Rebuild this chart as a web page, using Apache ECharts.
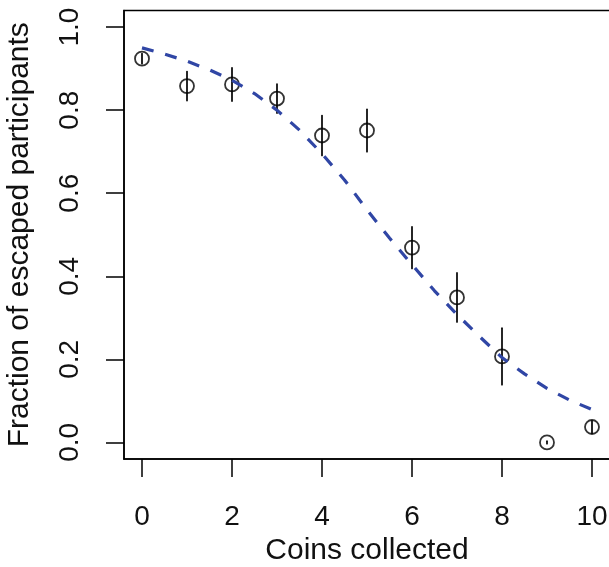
<!DOCTYPE html>
<html>
<head>
<meta charset="utf-8">
<script src="https://cdn.jsdelivr.net/npm/echarts@6/dist/echarts.min.js"></script>
<style>html,body{margin:0;padding:0;background:#fff;}#c{width:609px;height:567px;}</style>
</head>
<body>
<div id="c"></div>
<script>
// Observed data
var coins = [0, 1, 2, 3, 4, 5, 6, 7, 8, 9, 10];
var fraction = [0.924, 0.858, 0.862, 0.828, 0.739, 0.751, 0.469, 0.349, 0.207, 0.000, 0.037];
var errHalf = [0.012, 0.035, 0.040, 0.035, 0.048, 0.051, 0.050, 0.059, 0.068, 0.003, 0.015];
// Fitted curve
var fitX = [0, 0.5, 1, 1.5, 2, 2.5, 3, 3.5, 4, 4.5, 5, 5.5, 6, 6.5, 7, 7.5, 8, 8.5, 9, 9.5, 10];
var fitY = [0.950, 0.935, 0.918, 0.897, 0.872, 0.840, 0.800, 0.752, 0.695, 0.632, 0.560, 0.492, 0.428, 0.365, 0.308, 0.255, 0.204, 0.165, 0.130, 0.102, 0.079];
var xTicks = [0, 2, 4, 6, 8, 10];
var yTicks = [0, 0.2, 0.4, 0.6, 0.8, 1.0];

var FONT = 'Liberation Sans, Arial, Helvetica, sans-serif';
var chart = echarts.init(document.getElementById('c'), null, {renderer: 'canvas'});

var errData = coins.map(function (x, i) { return [x, fraction[i] - errHalf[i], fraction[i] + errHalf[i]]; });
var ptData = coins.map(function (x, i) { return [x, fraction[i]]; });
var fitData = fitX.map(function (x, i) { return [x, fitY[i]]; });

chart.setOption({
  animation: false,
  backgroundColor: '#fff',
  grid: {left: 124, top: 10.5, width: 486, height: 448.5, containLabel: false, outerBoundsMode: 'none', show: true, borderColor: '#000', borderWidth: 1.5, backgroundColor: 'transparent'},
  xAxis: {
    type: 'value', min: -0.4, max: 10.4,
    name: 'Coins collected', nameLocation: 'middle', nameGap: 76,
    nameTextStyle: {fontFamily: FONT, fontSize: 30, color: '#111'},
    axisLine: {show: true, onZero: false, lineStyle: {color: '#000', width: 1.5}},
    axisTick: {show: true, inside: false, length: 18, lineStyle: {color: '#000', width: 1.5}, customValues: xTicks},
    axisLabel: {show: true, margin: 44, fontFamily: FONT, fontSize: 28, color: '#111', customValues: xTicks, formatter: function (v) { return String(v); }},
    splitLine: {show: false}
  },
  yAxis: {
    type: 'value', min: -0.04, max: 1.04,
    name: 'Fraction of escaped participants', nameLocation: 'middle', nameGap: 89,
    nameTextStyle: {fontFamily: FONT, fontSize: 30, color: '#111'},
    axisLine: {show: true, onZero: false, lineStyle: {color: '#000', width: 1.5}},
    axisTick: {show: true, inside: false, length: 18, lineStyle: {color: '#000', width: 1.5}, customValues: yTicks},
    axisLabel: {show: true, rotate: 90, margin: 40, fontFamily: FONT, fontSize: 28, color: '#111', customValues: yTicks, formatter: function (v) { return v.toFixed(1); }},
    splitLine: {show: false}
  },
  series: [
    {
      type: 'custom',
      data: errData,
      z: 2,
      renderItem: function (params, api) {
        var x = api.value(0);
        var p1 = api.coord([x, api.value(1)]);
        var p2 = api.coord([x, api.value(2)]);
        return {type: 'line', shape: {x1: p1[0], y1: p1[1], x2: p2[0], y2: p2[1]}, style: {stroke: '#000', lineWidth: 1.7, lineCap: 'round'}};
      }
    },
    {
      type: 'scatter', data: ptData, symbol: 'circle', symbolSize: 14, z: 3,
      itemStyle: {color: 'rgba(0,0,0,0)', borderColor: '#000', borderWidth: 1.8}
    },
    {
      type: 'line', data: fitData, showSymbol: false, smooth: false, z: 4,
      lineStyle: {color: '#3046A5', width: 3.2, type: [12, 12], cap: 'butt'}
    }
  ]
});
</script>
</body>
</html>
